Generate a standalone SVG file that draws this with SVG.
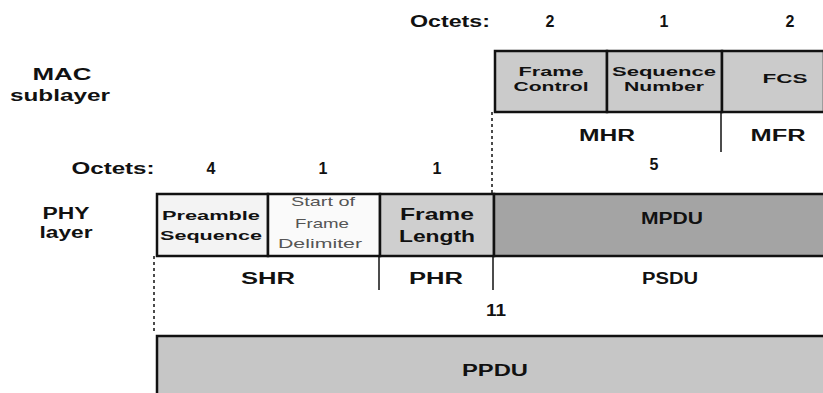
<svg xmlns="http://www.w3.org/2000/svg" width="823" height="393" viewBox="0 0 823 393">
<style>
text{font-family:"Liberation Sans",Arial,sans-serif;font-weight:bold;fill:#111;text-anchor:middle;font-size:16px}
.sm{font-size:13px}
.thin{font-weight:normal;fill:#555;font-size:13px}
.b{stroke:#111;stroke-width:2.5}
.sep{stroke:#111;stroke-width:1.5;fill:none}
.dash{stroke:#111;stroke-width:1.5;stroke-dasharray:3 3;fill:none}
</style>
<rect width="823" height="393" fill="#fff"/>
<g id="labels">
<text x="62" y="80" textLength="59" lengthAdjust="spacingAndGlyphs">MAC</text>
<text x="60" y="101" textLength="100" lengthAdjust="spacingAndGlyphs">sublayer</text>
<text x="66" y="219" textLength="47" lengthAdjust="spacingAndGlyphs">PHY</text>
<text x="66" y="238" textLength="53" lengthAdjust="spacingAndGlyphs">layer</text>
<text x="450" y="27" textLength="80" lengthAdjust="spacingAndGlyphs">Octets:</text>
<text x="550" y="27">2</text>
<text x="664" y="27">1</text>
<text x="790" y="27">2</text>
<text x="113" y="174" textLength="83" lengthAdjust="spacingAndGlyphs">Octets:</text>
<text x="211" y="174">4</text>
<text x="323" y="174">1</text>
<text x="437" y="174">1</text>
<text x="654" y="170">5</text>
<text x="496" y="316" textLength="20" lengthAdjust="spacingAndGlyphs">11</text>
</g>
<g id="frame-control">
<rect class="b" x="495" y="51" width="112" height="61" fill="#cbcbcb"/>
<text class="sm" x="551" y="76" textLength="65" lengthAdjust="spacingAndGlyphs">Frame</text>
<text class="sm" x="551" y="91" textLength="75" lengthAdjust="spacingAndGlyphs">Control</text>
</g>
<g id="sequence-number">
<rect class="b" x="607" y="51" width="115" height="61" fill="#cbcbcb"/>
<text class="sm" x="664" y="76" textLength="104" lengthAdjust="spacingAndGlyphs">Sequence</text>
<text class="sm" x="664" y="91" textLength="80" lengthAdjust="spacingAndGlyphs">Number</text>
</g>
<g id="fcs">
<rect class="b" x="722" y="51" width="102" height="61" fill="#cbcbcb"/>
<text class="sm" x="785" y="83" textLength="45" lengthAdjust="spacingAndGlyphs">FCS</text>
</g>
<g id="preamble">
<rect class="b" x="157" y="194" width="111" height="62" fill="#f3f3f3"/>
<text class="sm" x="211" y="220" textLength="98" lengthAdjust="spacingAndGlyphs">Preamble</text>
<text class="sm" x="211" y="240" textLength="102" lengthAdjust="spacingAndGlyphs">Sequence</text>
</g>
<g id="sfd">
<rect class="b" x="268" y="194" width="112" height="62" fill="#fafafa"/>
<text class="thin" x="323" y="206" textLength="64" lengthAdjust="spacingAndGlyphs">Start of</text>
<text class="thin" x="322" y="228" textLength="54" lengthAdjust="spacingAndGlyphs">Frame</text>
<text class="thin" x="320" y="248" textLength="84" lengthAdjust="spacingAndGlyphs">Delimiter</text>
</g>
<g id="frame-length">
<rect class="b" x="380" y="194" width="114" height="62" fill="#cfcfcf"/>
<text x="437" y="220" style="font-size:17px" textLength="74" lengthAdjust="spacingAndGlyphs">Frame</text>
<text x="437" y="242" style="font-size:17px" textLength="76" lengthAdjust="spacingAndGlyphs">Length</text>
</g>
<g id="mpdu">
<rect class="b" x="494" y="194" width="331" height="62" fill="#a4a4a4"/>
<text x="672" y="224" textLength="62" lengthAdjust="spacingAndGlyphs">MPDU</text>
</g>
<g id="ppdu">
<rect class="b" x="157" y="336" width="668" height="60" fill="#c6c6c6"/>
<text x="495" y="376" textLength="66" lengthAdjust="spacingAndGlyphs">PPDU</text>
</g>
<g id="connectors">
<line class="dash" x1="492" y1="112" x2="492" y2="194"/>
<line class="sep" x1="721" y1="112" x2="721" y2="152"/>
<line class="dash" x1="154" y1="256" x2="154" y2="334"/>
<line class="sep" x1="379" y1="256" x2="379" y2="290"/>
<line class="sep" x1="493" y1="256" x2="493" y2="290"/>
</g>
<g id="section-labels">
<text x="607" y="141" textLength="56" lengthAdjust="spacingAndGlyphs">MHR</text>
<text x="778" y="141" textLength="55" lengthAdjust="spacingAndGlyphs">MFR</text>
<text x="268" y="284" textLength="54" lengthAdjust="spacingAndGlyphs">SHR</text>
<text x="436" y="284" textLength="54" lengthAdjust="spacingAndGlyphs">PHR</text>
<text x="670" y="284" textLength="56" lengthAdjust="spacingAndGlyphs">PSDU</text>
</g>
</svg>
